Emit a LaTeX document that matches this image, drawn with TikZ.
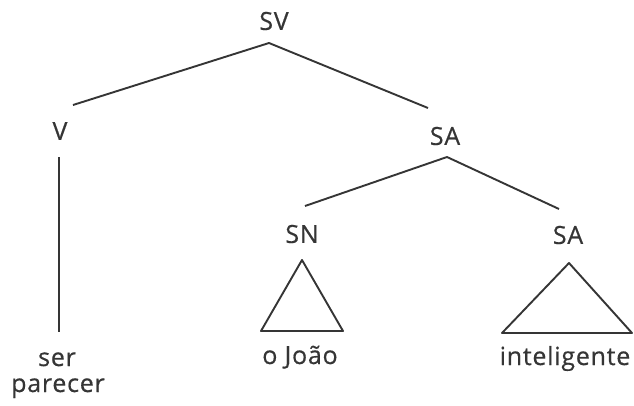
\documentclass[tikz,border=0pt]{standalone}
\usepackage{fontspec}
\setmainfont{Open Sans}[LetterSpace=3,FakeBold=0.5]
\begin{document}
\begin{tikzpicture}[x=1pt,y=-1pt,
  lbl/.style={inner sep=0pt, font=\fontsize{25}{29}\selectfont, text=ink},
  branch/.style={draw=ink, line width=1.9pt, line join=round},
  ]
\definecolor{ink}{HTML}{353535}
\useasboundingbox (0,0) rectangle (634,405);

% category labels
\node[lbl] (sv) at (274,21) {SV};
\node[lbl] (v) at (60,131) {V};
\node[lbl] (sa) at (445,136) {SA};
\node[lbl] (sn) at (302,234) {SN};
\node[lbl] (sa2) at (568,235) {SA};

% leaves
\node[lbl, anchor=base] (ser) at (57,366) {ser};
\node[lbl, anchor=base] (parecer) at (58,392) {parecer};
\node[lbl, anchor=base] (joao) at (300,364) {o João};
\node[lbl, anchor=base] (intel) at (565,365) {inteligente};

% branch end points
\coordinate (svtop) at (269,43);
\coordinate (svl) at (73,105);
\coordinate (svr) at (428,108);
\coordinate (satop) at (447,157);
\coordinate (sal) at (305,206);
\coordinate (sar) at (559,209);
\coordinate (vtop) at (59,157);
\coordinate (vbot) at (59,332);

% branches
\draw[branch] (svl) -- (svtop) -- (svr);
\draw[branch] (sal) -- (satop) -- (sar);
\draw[branch] (vtop) -- (vbot);

% triangles
\coordinate (t1) at (302,260);
\coordinate (t1l) at (261,331);
\coordinate (t1r) at (343,331);
\draw[branch] (t1) -- (t1l) -- (t1r) -- cycle;
\coordinate (t2) at (569,263);
\coordinate (t2l) at (502,333);
\coordinate (t2r) at (632,333);
\draw[branch] (t2) -- (t2l) -- (t2r) -- cycle;
\end{tikzpicture}
\end{document}
